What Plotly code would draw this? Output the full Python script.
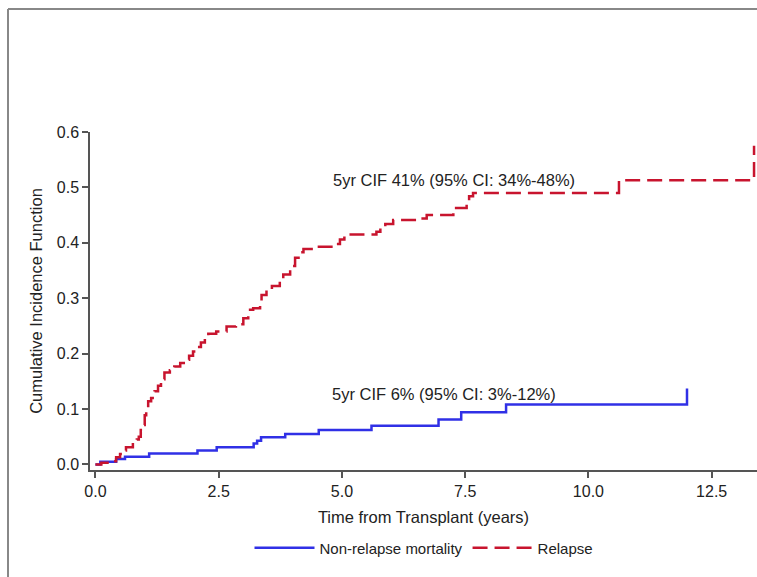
import plotly.graph_objects as go

# Non-relapse mortality (step function)
nrm_time = [0.0, 0.10, 0.42, 0.60, 1.09, 2.07, 2.46, 3.21, 3.28, 3.36, 3.85, 4.53, 5.60, 6.96, 7.42, 8.33, 12.0]
nrm_cif = [0.0, 0.005, 0.010, 0.014, 0.020, 0.025, 0.031, 0.038, 0.043, 0.049, 0.055, 0.062, 0.070, 0.081, 0.094, 0.108, 0.137]

# Relapse (step function)
rel_time = [0.0, 0.12, 0.36, 0.42, 0.50, 0.55, 0.62, 0.76, 0.84, 0.88, 0.92, 0.97, 1.00, 1.03, 1.07, 1.13,
            1.20, 1.27, 1.33, 1.40, 1.51, 1.60, 1.72, 1.84, 1.90, 1.98, 2.05, 2.14, 2.22, 2.29, 2.45,
            2.66, 2.85, 3.00, 3.10, 3.20, 3.34, 3.37, 3.47, 3.58, 3.74, 3.81, 3.95, 4.05, 4.12, 4.22,
            4.49, 4.86, 4.96, 5.05, 5.70, 5.78, 5.88, 6.04, 6.60, 6.72, 7.26, 7.53, 7.58, 7.66, 10.62, 13.36]
rel_cif = [0.0, 0.003, 0.006, 0.013, 0.019, 0.025, 0.031, 0.039, 0.045, 0.050, 0.062, 0.071, 0.089, 0.103, 0.114, 0.120,
           0.132, 0.142, 0.154, 0.166, 0.170, 0.177, 0.183, 0.189, 0.196, 0.204, 0.212, 0.220, 0.227, 0.236, 0.240,
           0.249, 0.253, 0.264, 0.279, 0.282, 0.292, 0.306, 0.314, 0.322, 0.334, 0.343, 0.358, 0.373, 0.383, 0.389,
           0.393, 0.398, 0.406, 0.415, 0.420, 0.428, 0.434, 0.441, 0.444, 0.450, 0.463, 0.476, 0.484, 0.490, 0.513, 0.575]

x_ticks = [0.0, 2.5, 5.0, 7.5, 10.0, 12.5]
y_ticks = [0.0, 0.1, 0.2, 0.3, 0.4, 0.5, 0.6]

labels = ["Non-relapse mortality", "Relapse"]
notes = ["5yr CIF 41% (95% CI: 34%-48%)", "5yr CIF 6% (95% CI: 3%-12%)"]
note_pos = [(4.78, 0.513), (4.76, 0.127)]

FONT = "Liberation Sans, Arial, sans-serif"
TXT = "#222222"
AX = "#555555"

fig = go.Figure()
fig.add_trace(go.Scatter(x=nrm_time, y=nrm_cif, mode="lines", line_shape="hv",
                         line=dict(color="#3030e6", width=2.5), name=labels[0]))
fig.add_trace(go.Scatter(x=rel_time, y=rel_cif, mode="lines", line_shape="hv",
                         line=dict(color="#c8142e", width=2.5, dash="15px,7px"), name=labels[1]))

for txt, (xx, yy) in zip(notes, note_pos):
    fig.add_annotation(x=xx, y=yy, text=txt, showarrow=False, xanchor="left", yanchor="middle",
                       font=dict(family=FONT, size=16.5, color=TXT))

W, H = 757, 577
L, R, T, B = 90, 0, 132, 107
pw, ph = W - L - R, H - T - B

def px(xp):
    return (xp - L) / pw

def py(yp):
    return (H - B - yp) / ph

# outer frame (left and top edges)
fig.add_shape(type="line", xref="paper", yref="paper", x0=px(8), x1=px(8), y0=py(9), y1=py(600),
              line=dict(color="#888888", width=2))
fig.add_shape(type="line", xref="paper", yref="paper", x0=px(8), x1=px(800), y0=py(9), y1=py(9),
              line=dict(color="#888888", width=2))

fig.update_layout(
    width=W, height=H,
    margin=dict(l=L, r=R, t=T, b=B),
    paper_bgcolor="white", plot_bgcolor="white",
    font=dict(family=FONT, size=16, color=TXT),
    showlegend=True,
    legend=dict(orientation="h", x=px(424), xanchor="center", y=py(548), yanchor="middle",
                font=dict(family=FONT, size=15, color=TXT), itemwidth=60,
                bgcolor="rgba(0,0,0,0)"),
    xaxis=dict(range=[-0.11, 13.42], tickvals=x_ticks, ticktext=[f"{v:.1f}" for v in x_ticks],
               showgrid=False, zeroline=False, showline=True, linecolor=AX, linewidth=1.5,
               ticks="outside", ticklen=6, tickcolor=AX, tickwidth=1.5,
               tickfont=dict(family=FONT, size=16, color=TXT),
               title=dict(text="Time from Transplant (years)", standoff=12,
                          font=dict(family=FONT, size=16.5, color=TXT))),
    yaxis=dict(range=[-0.01, 0.6], tickvals=y_ticks, ticktext=[f"{v:.1f}" for v in y_ticks],
               showgrid=False, zeroline=False, showline=True, linecolor=AX, linewidth=1.5,
               ticks="outside", ticklen=6, tickcolor=AX, tickwidth=1.5,
               tickfont=dict(family=FONT, size=16, color=TXT),
               title=dict(text="Cumulative Incidence Function", standoff=10,
                          font=dict(family=FONT, size=16.5, color=TXT))),
)

fig.write_html("out.html")
